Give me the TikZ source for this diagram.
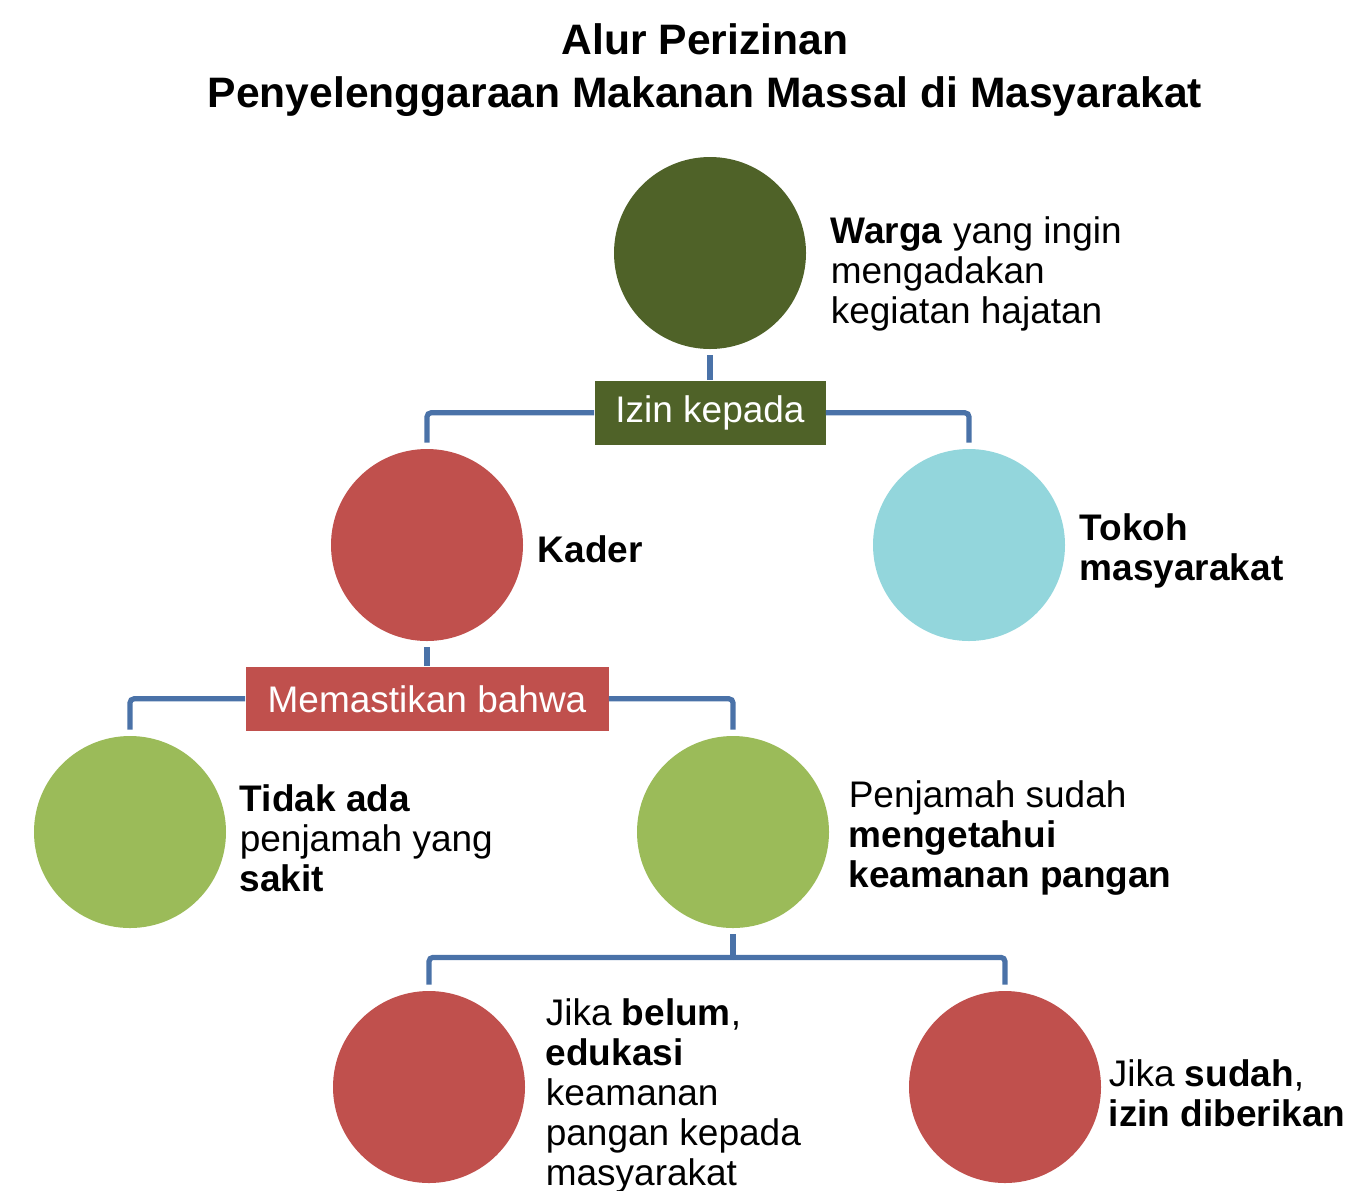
\documentclass[tikz,border=0pt]{standalone}
\usepackage{fontspec}
\setmainfont{Liberation Sans}
\usepackage{tikz}
\usetikzlibrary{positioning}
\usepackage{xcolor}
\definecolor{olivec}{HTML}{4F6228}
\definecolor{redc}{HTML}{C0504D}
\definecolor{tealc}{HTML}{93D6DC}
\definecolor{greenc}{HTML}{9BBB59}
\definecolor{linkc}{HTML}{4A72A8}
\tikzset{
  bulat/.style={circle, draw=none, minimum size=96pt, inner sep=0pt},
  kotak/.style={draw=none, text=white, minimum height=32pt, inner sep=0pt,
    font=\fontsize{18.5}{20}\selectfont},
  teks/.style={anchor=west, align=left, inner sep=0pt,
    font=\fontsize{18.5}{20}\selectfont},
  link/.style={draw=linkc, line width=2.6pt, rounded corners=2pt}
}

\begin{document}
\begin{tikzpicture}[x=0.5pt, y=-0.5pt]
  \useasboundingbox (0,0) rectangle (1353,1190);

  % ---- Title ----
  \node[align=center, font=\fontsize{21.3}{26.5}\selectfont\bfseries] (judul) at (705,70)
    {Alur Perizinan\\Penyelenggaraan Makanan Massal di Masyarakat};

  % ---- Warga and the first permission ----
  \node[bulat, fill=olivec] (warga) at (710,253) {};
  \node[teks, right=12pt of warga, yshift=-10.5pt] (wargatxt)
    {\textbf{Warga} yang ingin\\mengadakan\\kegiatan hajatan};
  \node[kotak, fill=olivec, minimum width=115.5pt, below=15.5pt of warga] (izin) {Izin kepada};

  \node[bulat, fill=redc] (kader) at (427,545) {};
  \node[teks, right=7pt of kader, yshift=-2pt] (kadertxt) {\textbf{Kader}};
  \node[bulat, fill=tealc] (tokoh) at (969,545) {};
  \node[teks, right=7pt of tokoh, yshift=-3pt] (tokohtxt) {\textbf{Tokoh}\\\textbf{masyarakat}};

  \draw[link, shorten <=3pt] (warga.south) -- (izin.north);
  \draw[link, shorten >=3pt] (izin.west) -| (kader.north);
  \draw[link, shorten >=3pt] (izin.east) -| (tokoh.north);

  % ---- Kader checks ----
  \node[kotak, fill=redc, minimum width=181.5pt, below=12.5pt of kader] (pastikan) {Memastikan bahwa};

  \node[bulat, fill=greenc] (sakit) at (130,832) {};
  \node[teks, right=6.5pt of sakit, yshift=-3pt] (sakittxt)
    {\textbf{Tidak ada}\\penjamah yang\\\textbf{sakit}};
  \node[bulat, fill=greenc] (penjamah) at (733,832) {};
  \node[teks, right=9.5pt of penjamah, yshift=-3pt] (penjamahtxt)
    {Penjamah sudah\\\textbf{mengetahui}\\\textbf{keamanan pangan}};

  \draw[link, shorten <=3pt] (kader.south) -- (pastikan.north);
  \draw[link, shorten >=3pt] (pastikan.west) -| (sakit.north);
  \draw[link, shorten >=3pt] (pastikan.east) -| (penjamah.north);

  % ---- Outcome ----
  \node[bulat, fill=redc] (belum) at (429,1087) {};
  \node[teks, right=10pt of belum, yshift=-4.5pt] (belumtxt)
    {Jika \textbf{belum},\\\textbf{edukasi}\\keamanan\\pangan kepada\\masyarakat};
  \node[bulat, fill=redc] (sudah) at (1005,1087) {};
  \node[teks, right=3.5pt of sudah, yshift=-3pt] (sudahtxt)
    {Jika \textbf{sudah},\\\textbf{izin diberikan}};

  \coordinate[below=14.5pt of penjamah] (cabang);
  \draw[link, shorten <=3pt] (penjamah.south) -- (cabang);
  \draw[link, shorten >=3pt] (cabang) -| (belum.north);
  \draw[link, shorten >=3pt] (cabang) -| (sudah.north);

\end{tikzpicture}
\end{document}
